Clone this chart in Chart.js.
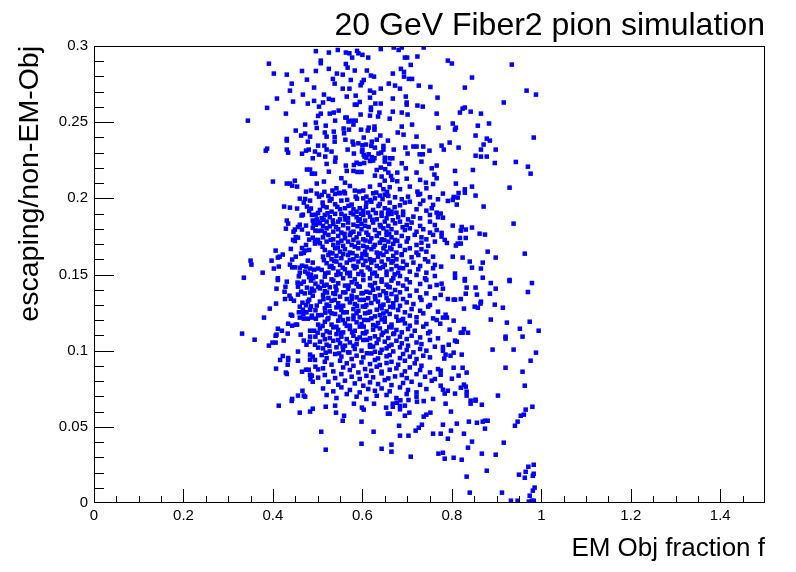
<!DOCTYPE html>
<html>
<head>
<meta charset="utf-8">
<script src="https://cdn.jsdelivr.net/npm/chart.js@4.4.1/dist/chart.umd.min.js"></script>
<style>
  html, body { margin: 0; padding: 0; background: #ffffff; }
  #wrap { width: 796px; height: 572px; }
</style>
</head>
<body>
<div id="wrap"><canvas id="c" width="796" height="572"></canvas></div>
<script>
// ---- values: [EM Obj fraction f, escaping/non-EM-Obj] ----
const upperLeftEvents = [
[0.496,0.2966],[0.391,0.2884],[0.402,0.2819],[0.431,0.2812],[0.465,0.2836],[0.496,0.2836],[0.442,0.2753],[0.476,0.2779],[0.492,0.2727],[0.438,0.2707],[0.467,0.2681],[0.409,0.2655],[0.445,0.2635],[0.478,0.2622],[0.492,0.2640],[0.503,0.2602],[0.387,0.2594],[0.429,0.2556],[0.501,0.2541],[0.344,0.2510],[0.496,0.2497],[0.472,0.2484],[0.498,0.2462],[0.451,0.2445],[0.472,0.2425],[0.463,0.2412],[0.483,0.2405],[0.431,0.2390],[0.431,0.2379],[0.478,0.2372],[0.501,0.2346],[0.387,0.2326],[0.384,0.2313],[0.431,0.2320],[0.434,0.2300],[0.474,0.2313],[0.480,0.2320],[0.494,0.2307],[0.465,0.2293],[0.503,0.2287],[0.489,0.2263]
];
const upperCentreEvents = [
[0.737,0.299],[0.670,0.299],[0.688,0.299],[0.681,0.2974],[0.641,0.298],[0.545,0.2974],[0.525,0.2957],[0.563,0.2957],[0.571,0.2952],[0.588,0.2968],[0.591,0.2952],[0.600,0.2942],[0.577,0.2924],[0.613,0.2924],[0.695,0.2924],[0.700,0.2924],[0.723,0.2931],[0.507,0.2904],[0.507,0.2887],[0.563,0.2882],[0.567,0.2858],[0.708,0.2876],[0.525,0.2850],[0.583,0.2839],[0.610,0.2839],[0.686,0.2850],[0.668,0.2819],[0.693,0.2830],[0.543,0.2819],[0.556,0.2812],[0.619,0.2806],[0.626,0.2799],[0.693,0.2799],[0.704,0.2784],[0.711,0.2784],[0.534,0.2784],[0.574,0.2777],[0.603,0.2777],[0.599,0.2760],[0.596,0.2742],[0.538,0.2753],[0.659,0.2753],[0.673,0.2740],[0.726,0.2740],[0.752,0.2731],[0.556,0.2720],[0.571,0.2720],[0.641,0.2720],[0.684,0.2720],[0.617,0.2707],[0.626,0.2694],[0.514,0.2681],[0.565,0.2668],[0.585,0.2674],[0.617,0.2661],[0.697,0.2668],[0.525,0.2653],[0.534,0.2646],[0.668,0.2655],[0.768,0.2661],[0.594,0.2633],[0.512,0.2629],[0.583,0.2615],[0.587,0.2615],[0.629,0.2622],[0.641,0.2622],[0.699,0.2629],[0.699,0.2615],[0.723,0.2609],[0.735,0.2602],[0.619,0.2596],[0.619,0.2580],[0.547,0.2576],[0.668,0.2569],[0.688,0.2563],[0.766,0.2556],[0.507,0.2556],[0.536,0.2563],[0.527,0.2556],[0.638,0.2563],[0.701,0.2550],[0.596,0.2550],[0.635,0.2537],[0.617,0.2543],[0.562,0.2530],[0.565,0.2530],[0.661,0.2523],[0.539,0.2510],[0.569,0.2504],[0.576,0.2510],[0.585,0.2510],[0.580,0.2484],[0.518,0.2477],[0.558,0.2458],[0.570,0.2451],[0.597,0.2451],[0.614,0.2464],[0.627,0.2471],[0.627,0.2451],[0.612,0.2445],[0.688,0.2471],[0.711,0.2484],[0.770,0.2464],[0.516,0.2432],[0.536,0.2438],[0.559,0.2427],[0.679,0.2432],[0.692,0.2418],[0.520,0.2405],[0.538,0.2403],[0.603,0.2399],[0.640,0.2412],[0.721,0.2405],[0.562,0.2385],[0.632,0.2385],[0.657,0.2379],[0.578,0.2372],[0.621,0.2372],[0.538,0.2372],[0.591,0.2361],[0.580,0.2353],[0.600,0.2348],[0.608,0.2353],[0.620,0.2344],[0.628,0.2333],[0.647,0.2344],[0.714,0.2340],[0.721,0.2340],[0.736,0.2340],[0.696,0.2333],[0.647,0.2320],[0.670,0.2320],[0.750,0.2313],[0.515,0.2346],[0.520,0.2320],[0.567,0.2320],[0.600,0.2318],[0.599,0.2307],[0.531,0.2307],[0.581,0.2294],[0.603,0.2285],[0.614,0.2289],[0.636,0.2294],[0.642,0.2300],[0.701,0.2294],[0.728,0.2289],[0.735,0.2289],[0.517,0.2274],[0.540,0.2267],[0.605,0.2274],[0.609,0.2267],[0.621,0.2270],[0.627,0.2263],[0.650,0.2267],[0.661,0.2263],[0.667,0.2263]
];
const upperRightEvents = [
[0.791,0.2904],[0.800,0.2885],[0.934,0.2878],[0.845,0.2793],[0.829,0.2727],[0.967,0.2707],[0.988,0.2681],[0.916,0.2629],[0.824,0.2589],[0.829,0.2596],[0.818,0.2563],[0.842,0.2569],[0.865,0.2556],[0.802,0.2491],[0.809,0.2464],[0.807,0.2451],[0.858,0.2477],[0.883,0.2491],[0.853,0.2412],[0.878,0.2392],[0.885,0.2379],[0.983,0.2399],[0.795,0.2366],[0.777,0.2346],[0.782,0.2320],[0.815,0.2333],[0.871,0.2353],[0.865,0.2320],[0.898,0.2320],[0.853,0.2280],[0.865,0.2274],[0.878,0.2274],
[0.896,0.2232],[0.943,0.2239],[0.970,0.2208],[0.976,0.2162],[0.807,0.2180],[0.847,0.2186],[0.809,0.2097],[0.829,0.2059],[0.829,0.2037],[0.845,0.2077],[0.815,0.2035],[0.780,0.2031],[0.929,0.2070],[0.853,0.2018],[0.804,0.2009],[0.813,0.2005],[0.802,0.1989],[0.791,0.1983],[0.811,0.1959],[0.871,0.1946],[0.775,0.1900],[0.780,0.1873],[0.938,0.1834],[0.802,0.1821],[0.822,0.1812],[0.820,0.1788],[0.831,0.1795],[0.845,0.1808],[0.862,0.1768],[0.874,0.1762],[0.777,0.1773],[0.777,0.1749],[0.784,0.1727],[0.789,0.1707],[0.818,0.1740],[0.831,0.1740],[0.813,0.1703],[0.820,0.1703],[0.809,0.1690],[0.880,0.1650],[0.963,0.1637],[0.802,0.1617],[0.824,0.1611],[0.898,0.1611],[0.840,0.1585],[0.869,0.1578],[0.776,0.1552],[0.845,0.1545],[0.865,0.1539],[0.807,0.1506],[0.807,0.1479],[0.869,0.1479],[0.829,0.1470],[0.929,0.1464]
];
const lowerRightEvents = [
[0.829,0.1460],[0.887,0.1444],[0.929,0.1457],[0.979,0.1444],[0.777,0.1440],[0.780,0.1407],[0.833,0.1414],[0.853,0.1414],[0.898,0.1407],[0.970,0.1385],[0.831,0.1374],[0.856,0.1368],[0.885,0.1374],[0.775,0.1366],[0.791,0.1339],[0.804,0.1335],[0.807,0.1335],[0.820,0.1339],[0.865,0.1322],[0.864,0.1309],[0.896,0.1302],[0.851,0.1289],[0.858,0.1282],[0.914,0.1282],[0.827,0.1276],[0.786,0.1236],[0.780,0.1217],[0.789,0.1217],[0.804,0.1197],[0.887,0.1204],[0.923,0.1184],[0.974,0.1190],[0.774,0.1177],[0.795,0.1138],[0.827,0.1142],[0.820,0.1118],[0.824,0.1118],[0.836,0.1118],[0.952,0.1144],[0.994,0.1131],[0.920,0.1092],[0.920,0.1079],[0.958,0.1092],[0.807,0.1066],[0.811,0.1059],[0.793,0.1039],[0.780,0.1024],[0.780,0.1000],[0.804,0.0987],[0.786,0.0974],[0.797,0.0967],[0.822,0.0974],[0.783,0.0948],[0.891,0.1007],[0.938,0.1007],[0.988,0.0987],[0.976,0.0934],[0.920,0.0888],[0.804,0.0888],[0.824,0.0888],[0.833,0.0856],[0.958,0.0862],[0.775,0.0869],[0.775,0.0842],[0.815,0.0836],[0.800,0.0816],[0.963,0.0770],[0.827,0.0777],[0.820,0.0757],[0.831,0.0764],[0.775,0.0770],[0.780,0.0744],[0.791,0.0737],[0.784,0.0718],[0.807,0.0718],[0.833,0.0731],[0.833,0.0705],[0.903,0.0705],[0.853,0.0678],
[0.786,0.0652],[0.842,0.0672],[0.842,0.0652],[0.853,0.0672],[0.867,0.0645],[0.798,0.0600],[0.980,0.0632],[0.965,0.0613],[0.954,0.0573],[0.961,0.0580],[0.947,0.0534],[0.941,0.0507],[0.811,0.0521],[0.838,0.0534],[0.856,0.0527],[0.869,0.0534],[0.874,0.0540],[0.880,0.0540],[0.780,0.0514],[0.874,0.0488],[0.798,0.0475],[0.775,0.0455],[0.827,0.0455],[0.791,0.0422],[0.845,0.0403],[0.916,0.0396],[0.836,0.0363],[0.780,0.0330],[0.867,0.0324],[0.898,0.0317],[0.784,0.0291],[0.804,0.0297],[0.822,0.0284],[0.983,0.0251],[0.971,0.0238],[0.878,0.0212],[0.965,0.0205],[0.983,0.0192],[0.950,0.0186],[0.963,0.0166],[0.981,0.0179],[0.833,0.0173],[0.985,0.0101],[0.981,0.0081],[0.840,0.0068],[0.912,0.0068],[0.974,0.0048],[0.932,0.0015],[0.947,0.0015],[0.972,0.0009],[0.979,0.0015],[0.983,0.0015]
];
const lowerCentreEvents = [
[0.518,0.0632],[0.539,0.0639],[0.541,0.0593],[0.559,0.0573],[0.556,0.0540],[0.581,0.0652],[0.599,0.0626],[0.603,0.0613],[0.626,0.0652],[0.653,0.0626],[0.668,0.0652],[0.677,0.0658],[0.668,0.0632],[0.684,0.0637],[0.695,0.0639],[0.684,0.0615],[0.685,0.0674],[0.703,0.0676],[0.722,0.0665],[0.737,0.0669],[0.657,0.0586],[0.661,0.0586],[0.695,0.0573],[0.705,0.0593],[0.737,0.0567],[0.743,0.0580],[0.752,0.0593],[0.733,0.0514],[0.726,0.0494],[0.719,0.0475],[0.682,0.0507],[0.598,0.0534],[0.508,0.0468],[0.625,0.0468],[0.684,0.0442],[0.703,0.0442],[0.758,0.0455],[0.598,0.0389],[0.665,0.0383],[0.643,0.0356],[0.665,0.0337],[0.518,0.0350],[0.708,0.0304],[0.770,0.0324],
[0.413,0.0639],[0.442,0.0670],[0.460,0.0593],[0.483,0.0600],[0.489,0.0619]
];
const middleLeftEvents = [
[0.476,0.2189],[0.483,0.2189],[0.487,0.2162],[0.494,0.2162],[0.449,0.2116],[0.400,0.2110],[0.431,0.2097],[0.438,0.2097],[0.443,0.2083],[0.454,0.2077],[0.498,0.2097],[0.474,0.2044],[0.485,0.2051],[0.498,0.2031],[0.503,0.2011],[0.460,0.1998],[0.472,0.1996],[0.469,0.1972],[0.483,0.1985],[0.425,0.1946],[0.438,0.1939],[0.454,0.1933],[0.476,0.1946],[0.485,0.1933],[0.481,0.1917],[0.467,0.1893],[0.464,0.1887],[0.487,0.1891],[0.496,0.1893],[0.501,0.1904],[0.431,0.1854],[0.434,0.1834],[0.489,0.1854],[0.498,0.1862],[0.501,0.1845],[0.460,0.1827],[0.474,0.1821],[0.491,0.1834],[0.496,0.1827],[0.429,0.1801],[0.449,0.1795],[0.456,0.1812],[0.465,0.1795],[0.446,0.1781],[0.489,0.1806],[0.495,0.1788],[0.501,0.1786],[0.478,0.1768],[0.451,0.1746],[0.456,0.1742],[0.449,0.1720],[0.445,0.1727],[0.489,0.1742],[0.481,0.1729],[0.494,0.1727],[0.501,0.1727],[0.496,0.1714],[0.494,0.1703],[0.474,0.1694],[0.465,0.1674],[0.440,0.1668],[0.471,0.1657],[0.481,0.1661],[0.469,0.1642],[0.463,0.1637],[0.406,0.1657],[0.422,0.1631],[0.415,0.1617],[0.411,0.1611],[0.451,0.1617],[0.478,0.1591],[0.489,0.1578],[0.443,0.1598],[0.350,0.1591],[0.352,0.1565],[0.397,0.1591],[0.438,0.1565],[0.443,0.1547],[0.449,0.1547],[0.460,0.1545],[0.465,0.1558],[0.474,0.1552],[0.483,0.1539],[0.402,0.1539],[0.413,0.1552],[0.492,0.1532],[0.501,0.1539],[0.377,0.1512],[0.460,0.1512],[0.472,0.1519],[0.478,0.1506],[0.485,0.1499],[0.458,0.1488],[0.481,0.1482],[0.496,0.1486],[0.335,0.1479],[0.411,0.1475],[0.490,0.1475],
[0.411,0.1464],[0.431,0.1453],[0.455,0.1447],[0.463,0.1440],[0.469,0.1453],[0.485,0.1460],[0.495,0.1440],[0.501,0.1420],[0.408,0.1407],[0.428,0.1420],[0.456,0.1420],[0.476,0.1414],[0.487,0.1407],[0.426,0.1387],[0.463,0.1387],[0.471,0.1376],[0.483,0.1381],[0.492,0.1394],[0.437,0.1361],[0.456,0.1368],[0.489,0.1361],[0.427,0.1339],[0.440,0.1341],[0.447,0.1328],[0.481,0.1335],[0.466,0.1315],[0.478,0.1322],[0.407,0.1309],[0.460,0.1289],[0.474,0.1298],[0.485,0.1291],[0.498,0.1296],[0.393,0.1276],[0.467,0.1269],[0.483,0.1269],[0.495,0.1265],[0.458,0.1252],[0.475,0.1252],[0.440,0.1236],[0.443,0.1230],[0.468,0.1239],[0.487,0.1230],[0.501,0.1232],[0.380,0.1217],[0.460,0.1217],[0.469,0.1210],[0.478,0.1210],[0.487,0.1217],[0.496,0.1210],[0.434,0.1177],[0.443,0.1164],[0.451,0.1171],[0.454,0.1171],[0.501,0.1171],[0.411,0.1144],[0.420,0.1131],[0.483,0.1131],[0.492,0.1131],[0.500,0.1118],[0.331,0.1112],[0.408,0.1105],[0.406,0.1098],[0.433,0.1112],[0.462,0.1105],[0.483,0.1092],[0.495,0.1092],[0.359,0.1072],[0.424,0.1066],[0.469,0.1066],[0.482,0.1059],[0.399,0.1053],[0.406,0.1053],[0.391,0.1033],[0.475,0.1039],[0.494,0.1039],[0.501,0.1020],[0.456,0.0994],[0.422,0.0965],[0.434,0.0952],[0.434,0.0939],[0.483,0.0974],[0.489,0.0961],[0.416,0.0939],[0.456,0.0934],[0.483,0.0941],[0.494,0.0939],[0.433,0.0908],[0.495,0.0895],[0.501,0.0877],[0.407,0.0882],[0.474,0.0875],[0.480,0.0875],[0.465,0.0862],[0.429,0.0856],[0.431,0.0847],[0.483,0.0842],[0.487,0.0836],[0.501,0.0823],[0.484,0.0814],[0.489,0.0796],[0.466,0.0737],[0.456,0.0705],[0.469,0.0705],[0.472,0.0698],[0.443,0.0683]
];
const coreUpperEvents = [
[0.520,0.2226],[0.539,0.2241],[0.563,0.2215],[0.581,0.2219],[0.587,0.2234],[0.594,0.2226],[0.604,0.2232],[0.617,0.2245],[0.624,0.2248],[0.641,0.2202],[0.650,0.2241],[0.660,0.2226],[0.688,0.2230],[0.732,0.2241],[0.766,0.2215],
[0.525,0.2175],[0.565,0.2180],[0.580,0.2180],[0.589,0.2173],[0.598,0.2173],[0.632,0.2186],[0.651,0.2191],[0.658,0.2169],[0.678,0.2169],[0.697,0.2197],[0.721,0.2169],[0.755,0.2197],[0.761,0.2156],
[0.514,0.2110],[0.553,0.2132],[0.561,0.2103],[0.628,0.2149],[0.643,0.2143],[0.650,0.2116],[0.664,0.2147],[0.667,0.2121],[0.678,0.2112],[0.699,0.2129],[0.729,0.2121],[0.742,0.2103],[0.766,0.2132],
[0.533,0.2051],[0.542,0.2066],[0.559,0.2044],[0.572,0.2081],[0.583,0.2051],[0.602,0.2051],[0.617,0.2077],[0.624,0.2033],[0.639,0.2088],[0.647,0.2060],[0.661,0.2073],[0.684,0.2060],[0.706,0.2077],[0.723,0.2044],[0.729,0.2029],[0.743,0.2066],[0.758,0.2094],
[0.509,0.2022],[0.524,0.2016],[0.539,0.2029],[0.550,0.2033],[0.561,0.2033],[0.585,0.2011],[0.609,0.2011],[0.628,0.2000],[0.639,0.2018],[0.650,0.2024],[0.658,0.2016],[0.673,0.2007],[0.688,0.1994],[0.702,0.2011],[0.725,0.2024],[0.751,0.2007],[0.769,0.1994],
[0.511,0.1972],[0.527,0.1985],[0.539,0.1961],[0.553,0.1985],[0.576,0.1959],[0.602,0.2000],[0.609,0.1972],[0.620,0.1978],[0.639,0.1963],[0.661,0.1972],[0.684,0.1954],[0.695,0.1972],[0.706,0.1978],[0.729,0.1963],[0.736,0.1985],[0.758,0.1957],
[0.505,0.1924],[0.520,0.1941],[0.531,0.1913],[0.550,0.1928],[0.561,0.1935],[0.580,0.1928],[0.587,0.1913],[0.594,0.1935],[0.602,0.1919],[0.613,0.1906],[0.624,0.1924],[0.643,0.1906],[0.650,0.1935],[0.658,0.1924],[0.665,0.1913],[0.676,0.1906],[0.691,0.1913],[0.721,0.1928],[0.743,0.1919],[0.755,0.1935],[0.766,0.1906],
[0.509,0.1869],[0.516,0.1891],[0.527,0.1876],[0.539,0.1898],[0.550,0.1862],[0.561,0.1885],[0.568,0.1869],[0.580,0.1895],[0.587,0.1876],[0.594,0.1862],[0.602,0.1891],[0.617,0.1880],[0.632,0.1862],[0.643,0.1885],[0.654,0.1869],[0.665,0.1898],[0.680,0.1876],[0.691,0.1891],[0.702,0.1862],[0.714,0.1880],[0.729,0.1869],[0.751,0.1891],[0.769,0.1876],
[0.505,0.1836],[0.512,0.1819],[0.520,0.1847],[0.535,0.1832],[0.546,0.1847],[0.557,0.1823],[0.568,0.1841],[0.580,0.1827],[0.591,0.1852],[0.598,0.1832],[0.606,0.1819],[0.624,0.1841],[0.639,0.1825],[0.650,0.1847],[0.658,0.1819],[0.673,0.1836],[0.684,0.1847],[0.699,0.1825],[0.710,0.1841],[0.729,0.1819],[0.751,0.1847],[0.762,0.1825],
[0.509,0.1788],[0.520,0.1803],[0.535,0.1781],[0.546,0.1797],[0.553,0.1775],[0.568,0.1803],[0.580,0.1781],[0.598,0.1797],[0.609,0.1775],[0.628,0.1792],[0.647,0.1803],[0.654,0.1781],[0.665,0.1797],[0.676,0.1775],[0.695,0.1792],[0.706,0.1803],[0.721,0.1781],[0.736,0.1797],[0.751,0.1775],[0.766,0.1792],
[0.512,0.1744],[0.524,0.1760],[0.535,0.1731],[0.546,0.1753],[0.561,0.1738],[0.572,0.1760],[0.587,0.1744],[0.602,0.1731],[0.613,0.1760],[0.620,0.1738],[0.632,0.1753],[0.643,0.1731],[0.654,0.1760],[0.665,0.1744],[0.673,0.1727],[0.688,0.1753],[0.702,0.1738],[0.717,0.1760],[0.732,0.1744],[0.743,0.1731],[0.758,0.1760],
[0.505,0.1705],[0.520,0.1716],[0.535,0.1694],[0.546,0.1709],[0.557,0.1688],[0.568,0.1716],[0.576,0.1694],[0.591,0.1709],[0.602,0.1688],[0.617,0.1716],[0.628,0.1694],[0.639,0.1709],[0.650,0.1688],[0.658,0.1716],[0.669,0.1701],[0.684,0.1688],[0.699,0.1716],[0.721,0.1694],[0.732,0.1709],[0.747,0.1688],[0.762,0.1716],
[0.516,0.1661],[0.527,0.1644],[0.539,0.1672],[0.550,0.1650],[0.561,0.1666],[0.572,0.1644],[0.591,0.1672],[0.606,0.1650],[0.620,0.1666],[0.632,0.1644],[0.647,0.1672],[0.654,0.1650],[0.665,0.1666],[0.676,0.1644],[0.695,0.1661],[0.706,0.1672],[0.721,0.1644],[0.732,0.1666],[0.743,0.1650],
[0.512,0.1617],[0.524,0.1628],[0.531,0.1600],[0.542,0.1622],[0.553,0.1607],[0.568,0.1628],[0.580,0.1600],[0.587,0.1622],[0.598,0.1607],[0.609,0.1628],[0.617,0.1600],[0.635,0.1617],[0.647,0.1628],[0.658,0.1600],[0.669,0.1622],[0.676,0.1600],[0.688,0.1628],[0.710,0.1613],[0.725,0.1628],[0.740,0.1600],[0.758,0.1617],
[0.520,0.1574],[0.531,0.1556],[0.542,0.1585],[0.550,0.1563],[0.565,0.1578],[0.580,0.1556],[0.591,0.1585],[0.602,0.1563],[0.620,0.1578],[0.632,0.1556],[0.643,0.1585],[0.650,0.1563],[0.665,0.1578],[0.676,0.1556],[0.691,0.1585],[0.699,0.1563],[0.714,0.1578],[0.729,0.1556],[0.747,0.1585],[0.762,0.1563],
[0.509,0.1530],[0.524,0.1512],[0.535,0.1541],[0.546,0.1519],[0.561,0.1534],[0.572,0.1512],[0.583,0.1541],[0.598,0.1519],[0.617,0.1534],[0.628,0.1512],[0.639,0.1541],[0.654,0.1519],[0.665,0.1534],[0.680,0.1512],[0.691,0.1541],[0.706,0.1519],[0.725,0.1534],[0.743,0.1512],[0.758,0.1541],
[0.516,0.1486],[0.531,0.1468],[0.542,0.1497],[0.557,0.1475],[0.572,0.1490],[0.583,0.1468],[0.602,0.1497],[0.617,0.1475],[0.632,0.1490],[0.643,0.1468],[0.654,0.1497],[0.669,0.1475],[0.684,0.1490],[0.699,0.1468],[0.721,0.1497],[0.740,0.1475],[0.762,0.1490]
];
const coreLowerEvents = [
[0.509,0.1453],[0.520,0.1433],[0.535,0.1460],[0.546,0.1442],[0.561,0.1427],[0.576,0.1449],[0.587,0.1438],[0.602,0.1464],[0.617,0.1431],[0.628,0.1444],[0.643,0.1453],[0.654,0.1433],[0.665,0.1460],[0.680,0.1442],[0.691,0.1427],[0.706,0.1449],[0.729,0.1438],[0.743,0.1464],[0.766,0.1431],
[0.505,0.1409],[0.516,0.1390],[0.527,0.1416],[0.542,0.1398],[0.557,0.1383],[0.568,0.1405],[0.580,0.1394],[0.594,0.1420],[0.609,0.1387],[0.624,0.1400],[0.635,0.1409],[0.647,0.1390],[0.661,0.1416],[0.673,0.1398],[0.684,0.1383],[0.699,0.1405],[0.721,0.1394],[0.751,0.1420],
[0.512,0.1365],[0.524,0.1346],[0.539,0.1372],[0.550,0.1355],[0.565,0.1339],[0.576,0.1361],[0.587,0.1350],[0.598,0.1376],[0.613,0.1344],[0.628,0.1357],[0.639,0.1365],[0.654,0.1346],[0.665,0.1372],[0.676,0.1355],[0.691,0.1339],[0.706,0.1361],[0.729,0.1350],[0.743,0.1376],[0.762,0.1344],
[0.505,0.1322],[0.520,0.1302],[0.531,0.1328],[0.546,0.1311],[0.557,0.1295],[0.572,0.1317],[0.583,0.1306],[0.594,0.1333],[0.609,0.1300],[0.620,0.1313],[0.635,0.1322],[0.647,0.1302],[0.658,0.1328],[0.669,0.1311],[0.684,0.1295],[0.699,0.1317],[0.714,0.1306],[0.732,0.1333],[0.751,0.1300],
[0.516,0.1278],[0.527,0.1258],[0.542,0.1284],[0.553,0.1267],[0.565,0.1252],[0.580,0.1273],[0.591,0.1262],[0.606,0.1289],[0.617,0.1256],[0.632,0.1269],[0.643,0.1278],[0.654,0.1258],[0.669,0.1284],[0.680,0.1267],[0.695,0.1252],[0.710,0.1273],[0.729,0.1262],[0.747,0.1289],[0.769,0.1256],
[0.509,0.1234],[0.524,0.1214],[0.539,0.1241],[0.550,0.1223],[0.568,0.1208],[0.580,0.1230],[0.594,0.1219],[0.606,0.1245],[0.620,0.1212],[0.628,0.1225],[0.639,0.1234],[0.650,0.1214],[0.661,0.1241],[0.676,0.1223],[0.691,0.1208],[0.706,0.1230],[0.721,0.1219],[0.736,0.1245],[0.758,0.1212],
[0.516,0.1190],[0.531,0.1171],[0.546,0.1197],[0.561,0.1179],[0.572,0.1164],[0.587,0.1186],[0.598,0.1175],[0.613,0.1201],[0.624,0.1168],[0.635,0.1182],[0.650,0.1190],[0.665,0.1171],[0.680,0.1197],[0.695,0.1179],[0.706,0.1164],[0.721,0.1186],[0.743,0.1175],[0.766,0.1201],
[0.505,0.1146],[0.520,0.1127],[0.535,0.1153],[0.546,0.1136],[0.557,0.1120],[0.572,0.1142],[0.583,0.1131],[0.594,0.1158],[0.609,0.1125],[0.624,0.1138],[0.639,0.1146],[0.654,0.1127],[0.665,0.1153],[0.676,0.1136],[0.688,0.1120],[0.702,0.1142],[0.717,0.1131],[0.736,0.1158],[0.751,0.1125],
[0.512,0.1103],[0.527,0.1083],[0.542,0.1109],[0.553,0.1092],[0.565,0.1076],[0.580,0.1098],[0.594,0.1087],[0.606,0.1114],[0.617,0.1081],[0.628,0.1094],[0.643,0.1103],[0.658,0.1083],[0.669,0.1109],[0.684,0.1092],[0.699,0.1076],[0.710,0.1098],[0.729,0.1087],[0.747,0.1114],[0.769,0.1081],
[0.505,0.1059],[0.520,0.1039],[0.535,0.1065],[0.550,0.1048],[0.561,0.1033],[0.572,0.1054],[0.587,0.1043],[0.602,0.1070],[0.617,0.1037],[0.632,0.1050],[0.650,0.1059],[0.665,0.1039],[0.676,0.1065],[0.688,0.1048],[0.702,0.1033],[0.721,0.1054],[0.732,0.1043],[0.751,0.1070],
[0.512,0.1015],[0.527,0.0995],[0.542,0.1022],[0.557,0.1004],[0.568,0.0989],[0.583,0.1011],[0.598,0.1000],[0.617,0.1026],[0.628,0.0993],[0.643,0.1006],[0.654,0.1015],[0.669,0.0995],[0.684,0.1022],[0.699,0.1004],[0.714,0.0989],[0.729,0.1011],[0.743,0.1000],[0.762,0.1026],
[0.509,0.0971],[0.520,0.0951],[0.539,0.0978],[0.553,0.0961],[0.576,0.0945],[0.587,0.0967],[0.602,0.0956],[0.620,0.0982],[0.635,0.0949],[0.654,0.0963],[0.661,0.0971],[0.684,0.0951],[0.691,0.0978],[0.706,0.0961],[0.721,0.0945],[0.736,0.0967],[0.751,0.0956],
[0.516,0.0927],[0.531,0.0908],[0.550,0.0934],[0.565,0.0917],[0.580,0.0901],[0.598,0.0923],[0.617,0.0912],[0.628,0.0939],[0.639,0.0906],[0.654,0.0919],[0.665,0.0927],[0.680,0.0908],[0.695,0.0934],[0.717,0.0917],[0.732,0.0901],
[0.512,0.0884],[0.535,0.0864],[0.557,0.0890],[0.572,0.0873],[0.591,0.0857],[0.606,0.0879],[0.620,0.0868],[0.632,0.0895],[0.643,0.0862],[0.661,0.0875],[0.676,0.0884],[0.695,0.0864],[0.706,0.0890],[0.729,0.0873],[0.751,0.0857],[0.769,0.0879],
[0.516,0.0840],[0.539,0.0820],[0.553,0.0846],[0.576,0.0829],[0.594,0.0814],[0.609,0.0835],[0.624,0.0825],[0.643,0.0851],[0.658,0.0818],[0.673,0.0831],[0.688,0.0840],[0.699,0.0820],[0.721,0.0846],[0.740,0.0829],[0.762,0.0814],
[0.524,0.0796],[0.546,0.0776],[0.561,0.0803],[0.583,0.0785],[0.602,0.0770],[0.617,0.0792],[0.635,0.0781],[0.650,0.0807],[0.665,0.0774],[0.691,0.0788],[0.710,0.0796],[0.729,0.0776],[0.755,0.0803],
[0.512,0.0752],[0.535,0.0733],[0.553,0.0759],[0.572,0.0742],[0.594,0.0726],[0.613,0.0748],[0.628,0.0737],[0.643,0.0752],[0.661,0.0733],[0.684,0.0759],[0.702,0.0742],[0.721,0.0726],[0.743,0.0748],
[0.520,0.0709],[0.542,0.0689],[0.565,0.0715],[0.587,0.0698],[0.609,0.0683],[0.632,0.0704],[0.654,0.0709],[0.676,0.0689],[0.699,0.0715],[0.721,0.0698],[0.758,0.0683]
];
const coreFillEvents = [
[0.515,0.2043],[0.548,0.2036],[0.593,0.2045],[0.631,0.2038],[0.655,0.2042],
[0.531,0.1996],[0.566,0.1990],[0.588,0.1998],[0.617,0.1989],[0.645,0.1995],
[0.512,0.1949],[0.544,0.1944],[0.569,0.1951],[0.608,0.1945],[0.636,0.1950],[0.672,0.1942],
[0.522,0.1902],[0.553,0.1897],[0.574,0.1904],[0.597,0.1899],[0.630,0.1903],[0.657,0.1896],
[0.513,0.1860],[0.534,0.1855],[0.562,0.1861],[0.606,0.1854],[0.622,0.1859],[0.668,0.1856],
[0.527,0.1816],[0.541,0.1811],[0.589,0.1817],[0.614,0.1812],[0.641,0.1815],[0.690,0.1810],
[0.516,0.1772],[0.560,0.1767],[0.574,0.1773],[0.593,0.1768],[0.637,0.1771],[0.660,0.1766],
[0.529,0.1727],[0.553,0.1722],[0.580,0.1728],[0.607,0.1723],[0.649,0.1726],[0.678,0.1721],
[0.511,0.1682],[0.545,0.1677],[0.583,0.1683],[0.610,0.1678],[0.625,0.1681],[0.662,0.1676],
[0.533,0.1639],[0.557,0.1634],[0.578,0.1640],[0.600,0.1635],[0.640,0.1638],[0.688,0.1633],
[0.514,0.1594],[0.537,0.1589],[0.572,0.1595],[0.607,0.1590],[0.626,0.1593],[0.668,0.1588],
[0.527,0.1550],[0.556,0.1545],[0.587,0.1551],[0.612,0.1546],[0.646,0.1549],[0.683,0.1544],
[0.517,0.1507],[0.551,0.1502],[0.566,0.1508],[0.591,0.1503],[0.622,0.1506],[0.672,0.1501],
[0.514,0.1426],[0.540,0.1421],[0.569,0.1427],[0.591,0.1422],[0.621,0.1425],[0.658,0.1420],
[0.521,0.1382],[0.535,0.1377],[0.562,0.1383],[0.601,0.1378],[0.617,0.1381],[0.653,0.1376],
[0.513,0.1338],[0.538,0.1333],[0.576,0.1339],[0.603,0.1334],[0.629,0.1337],[0.676,0.1332],
[0.526,0.1294],[0.550,0.1289],[0.588,0.1295],[0.601,0.1290],[0.640,0.1293],[0.662,0.1288],
[0.517,0.1250],[0.531,0.1245],[0.557,0.1251],[0.587,0.1246],[0.613,0.1249],[0.647,0.1244],
[0.522,0.1206],[0.556,0.1201],[0.580,0.1207],[0.604,0.1202],[0.643,0.1205],[0.688,0.1200],
[0.511,0.1162],[0.542,0.1157],[0.565,0.1163],[0.603,0.1158],[0.631,0.1161],[0.660,0.1156],
[0.527,0.1119],[0.552,0.1114],[0.577,0.1120],[0.601,0.1115],[0.646,0.1118],[0.671,0.1113],
[0.516,0.1075],[0.546,0.1070],[0.588,0.1076],[0.610,0.1071],[0.636,0.1074],
[0.526,0.1031],[0.556,0.1026],[0.580,0.1032],[0.624,0.1027],[0.659,0.1030],
[0.518,0.0987],[0.548,0.0982],[0.571,0.0988],[0.610,0.0983],[0.640,0.0986]
];

// ---- axis ticks ----
const xTickValues = [0, 0.2, 0.4, 0.6, 0.8, 1, 1.2, 1.4];
const xTickLabels = ['0', '0.2', '0.4', '0.6', '0.8', '1', '1.2', '1.4'];
const yTickValues = [0, 0.05, 0.1, 0.15, 0.2, 0.25, 0.3];
const yTickLabels = ['0', '0.05', '0.1', '0.15', '0.2', '0.25', '0.3'];
const xMinorStep = 0.05;
const yMinorStep = 0.01;

const allEvents = [].concat(upperLeftEvents, upperCentreEvents, upperRightEvents,
  lowerRightEvents, lowerCentreEvents, middleLeftEvents, coreUpperEvents, coreLowerEvents, coreFillEvents);

const FONT = 'Liberation Sans, Arial, Helvetica, sans-serif';

// frame + inward ROOT-style ticks, positioned through the chart's scales
const rootFrame = {
  id: 'rootFrame',
  afterDatasetsDraw(chart) {
    const { ctx, chartArea: a, scales: { x, y } } = chart;
    ctx.save();
    ctx.strokeStyle = '#000';
    ctx.lineWidth = 1;
    ctx.beginPath();
    const xMax = x.max, yMax = y.max;
    for (let k = 1; k * xMinorStep < xMax - 1e-9; k++) {
      const v = +(k * xMinorStep).toFixed(4);
      const isMajor = xTickValues.some(t => Math.abs(t - v) < 1e-9);
      const px = Math.round(x.getPixelForValue(v)) + 0.5;
      const len = isMajor ? 14 : 7;
      ctx.moveTo(px, a.bottom);
      ctx.lineTo(px, a.bottom - len);
    }
    for (let k = 1; k * yMinorStep < yMax - 1e-9; k++) {
      const v = +(k * yMinorStep).toFixed(4);
      const isMajor = yTickValues.some(t => Math.abs(t - v) < 1e-9);
      const py = Math.round(y.getPixelForValue(v)) + 0.5;
      const len = isMajor ? 20 : 10;
      ctx.moveTo(a.left, py);
      ctx.lineTo(a.left + len, py);
    }
    ctx.stroke();
    ctx.strokeRect(a.left + 0.5, a.top + 0.5, a.right - a.left - 1, a.bottom - a.top - 1);
    ctx.restore();
  }
};

new Chart(document.getElementById('c'), {
  type: 'scatter',
  data: {
    datasets: [{
      label: 'events',
      data: allEvents.map(p => ({ x: p[0], y: p[1] })),
      backgroundColor: '#0000ff',
      borderWidth: 0,
      pointStyle: 'rect',
      pointRadius: 3.2,
      pointHoverRadius: 3.2
    }]
  },
  options: {
    responsive: false,
    animation: false,
    devicePixelRatio: 1,
    events: [],
    layout: { padding: { left: 0, right: 31, top: 0, bottom: 0 } },
    plugins: {
      legend: { display: false },
      tooltip: { enabled: false },
      title: {
        display: true,
        text: '20 GeV Fiber2 pion simulation',
        align: 'end',
        color: '#000',
        font: { family: FONT, size: 32, weight: 'normal', lineHeight: 1.2 },
        padding: { top: 7, bottom: 0.6 }
      }
    },
    scales: {
      x: {
        type: 'linear',
        min: 0, max: 1.5,
        afterBuildTicks: s => { s.ticks = xTickValues.map(v => ({ value: v })); },
        afterFit: s => { s.height = 69; },
        grid: { display: false, drawTicks: false },
        border: { display: false },
        ticks: {
          autoSkip: false, maxRotation: 0, minRotation: 0, padding: 4, color: '#000',
          font: { family: FONT, size: 15 },
          callback: (v) => xTickLabels[xTickValues.findIndex(t => Math.abs(t - v) < 1e-9)]
        },
        title: {
          display: true, text: 'EM Obj fraction f', align: 'end', color: '#000',
          font: { family: FONT, size: 26, lineHeight: 1.2 },
          padding: { top: 0, bottom: 7.4 }
        }
      },
      y: {
        type: 'linear',
        min: 0, max: 0.3,
        afterBuildTicks: s => { s.ticks = yTickValues.map(v => ({ value: v })); },
        afterFit: s => { s.width = 94; },
        grid: { display: false, drawTicks: false },
        border: { display: false },
        ticks: {
          autoSkip: false, padding: 6, color: '#000',
          font: { family: FONT, size: 15 },
          callback: (v) => yTickLabels[yTickValues.findIndex(t => Math.abs(t - v) < 1e-9)]
        },
        title: {
          display: true, text: 'escaping/non-EM-Obj', align: 'end', color: '#000',
          font: { family: FONT, size: 28.5, lineHeight: 1.2 },
          padding: { top: 12.9, bottom: 0 }
        }
      }
    }
  },
  plugins: [rootFrame]
});
</script>
</body>
</html>
